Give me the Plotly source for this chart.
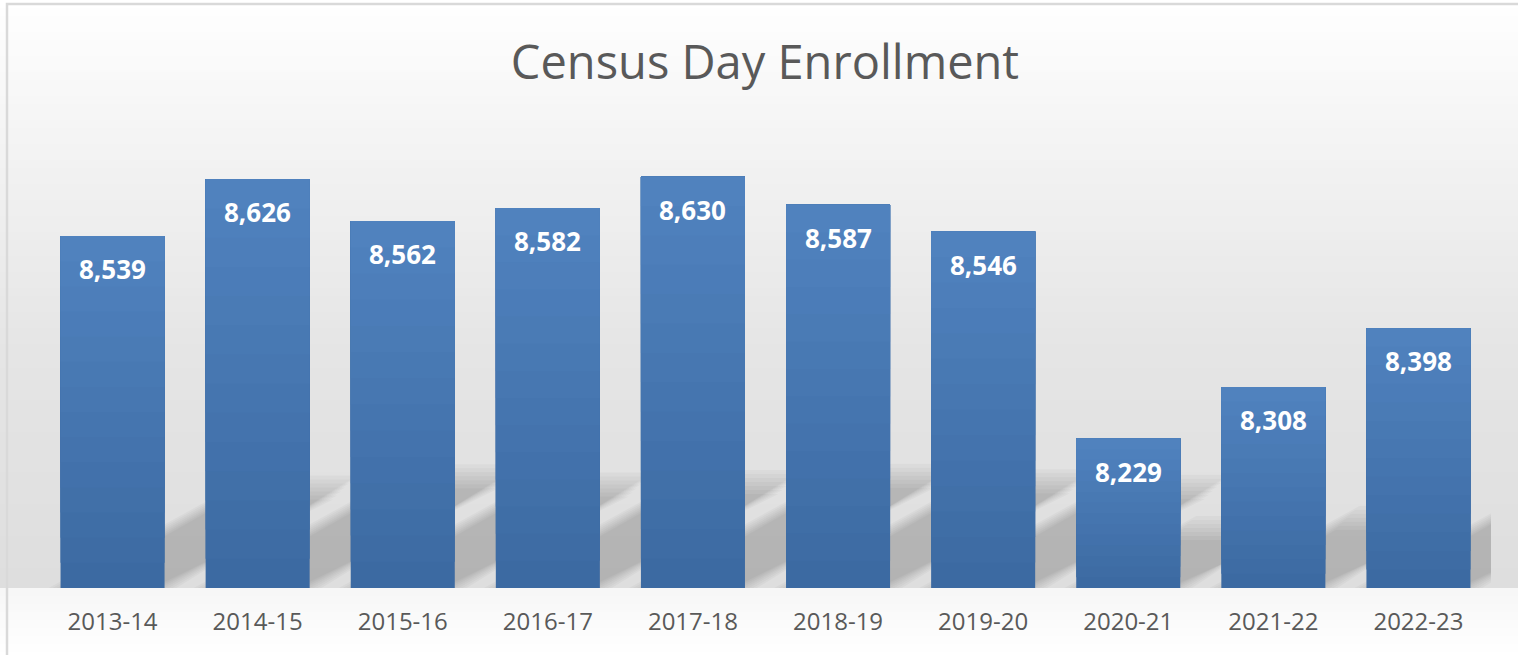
import plotly.graph_objects as go

years = ["2013-14", "2014-15", "2015-16", "2016-17", "2017-18",
         "2018-19", "2019-20", "2020-21", "2021-22", "2022-23"]
enrollment = [8539, 8626, 8562, 8582, 8630, 8587, 8546, 8229, 8308, 8398]
axis_min, axis_max = 8000, 8700

W, H = 1518, 655
ML, MR, MT, MB = 40, 27, 131, 67
PW, PH = W - ML - MR, H - MT - MB
BARGAP = 0.283

fig = go.Figure()

# bar gradient via layered segments (top lighter, bottom darker)
top_rgb = (80, 130, 190)
bot_rgb = (60, 106, 162)
N = 14
for k in range(N):
    t = k / (N - 1)
    col = tuple(round(bot_rgb[i] + (top_rgb[i] - bot_rgb[i]) * t) for i in range(3))
    bases = [axis_min + (v - axis_min) * k / N for v in enrollment]
    fig.add_trace(go.Bar(
        x=years,
        y=[v - b for v, b in zip(enrollment, bases)],
        base=bases,
        marker=dict(color="rgb(%d,%d,%d)" % col, line=dict(width=0)),
        hoverinfo="skip" if k else "x+y",
        showlegend=False,
    ))

# data labels
for yr, v in zip(years, enrollment):
    fig.add_annotation(x=yr, y=v, yshift=-33, text=f"{v:,}", showarrow=False,
                       yanchor="middle",
                       font=dict(family="Open Sans", size=26, color="white", weight="bold"))

def px2x(px):
    return (px - ML) / PW

def py2y(py):
    return (H - MB - py) / PH

def grey_at(py):
    pts = [(0, 255), (150, 243), (350, 229), (588, 222)]
    if py >= 588:
        return 246 + (255 - 246) * (py - 588) / (H - 588)
    for (a, ca), (b, cb) in zip(pts, pts[1:]):
        if a <= py <= b:
            return ca + (cb - ca) * (py - a) / (b - a)
    return 255

shapes = []
step = 8
py = 0
while py < H:
    nxt = min(py + step, H)
    if py < 588 < nxt:
        nxt = 588
    g = round(grey_at((py + nxt) / 2))
    shapes.append(dict(type="rect", xref="paper", yref="paper", layer="below",
                       x0=px2x(0), x1=px2x(W), y0=py2y(nxt), y1=py2y(py),
                       fillcolor="rgb(%d,%d,%d)" % (g, g, g), line=dict(width=0)))
    py = nxt

# soft floor shadows cast by each bar (derived from bar values)
cat_px = PW / len(years)
half = (1 - BARGAP) / 2
val_per_px = (axis_max - axis_min) / PH
for i, v in enumerate(enrollment):
    hp = (v - axis_min) / val_per_px
    dy_px = 0.2 * hp + 30
    dx_px = 1.8 * dy_px
    for e in (12, 8, 4, 0, -4, -8, -12):
        ex = e / cat_px
        ey = e * val_per_px
        x0 = i - half - ex
        x1 = i + half + ex
        dx = dx_px / cat_px
        dy = dy_px * val_per_px + ey
        path = (f"M{x0},{axis_min} L{x1},{axis_min} "
                f"L{x1 + dx},{axis_min + dy} L{x0 + dx + 2 * ex},{axis_min + dy} Z")
        shapes.append(dict(type="path", xref="x", yref="y", layer="below", path=path,
                           fillcolor="rgba(0,0,0,0.027)", line=dict(width=0)))

# chart border (top and left visible)
shapes.append(dict(type="rect", xref="paper", yref="paper", layer="above",
                   x0=px2x(7), x1=px2x(W + 10), y0=py2y(H + 10), y1=py2y(4),
                   fillcolor="rgba(0,0,0,0)", line=dict(color="#d9d9d9", width=2.5)))

fig.update_layout(
    width=W, height=H,
    margin=dict(l=ML, r=MR, t=MT, b=MB),
    barmode="overlay",
    bargap=BARGAP,
    paper_bgcolor="white",
    plot_bgcolor="rgba(0,0,0,0)",
    shapes=shapes,
    title=dict(text="Census Day Enrollment", x=765 / W,
               xanchor="center", y=1 - 63 / H, yanchor="middle",
               font=dict(family="Open Sans", size=47, color="#595959")),
    xaxis=dict(showgrid=False, showline=False, ticks="", zeroline=False,
               range=[-0.5, len(years) - 0.5], autorange=False,
               ticklabelstandoff=17,
               tickfont=dict(family="Open Sans", size=24, color="#595959")),
    yaxis=dict(range=[axis_min, axis_max], visible=False, showgrid=False),
    showlegend=False,
)

fig.write_html("out.html", config={"displayModeBar": False},
               post_script="document.body.style.margin='0px';")
